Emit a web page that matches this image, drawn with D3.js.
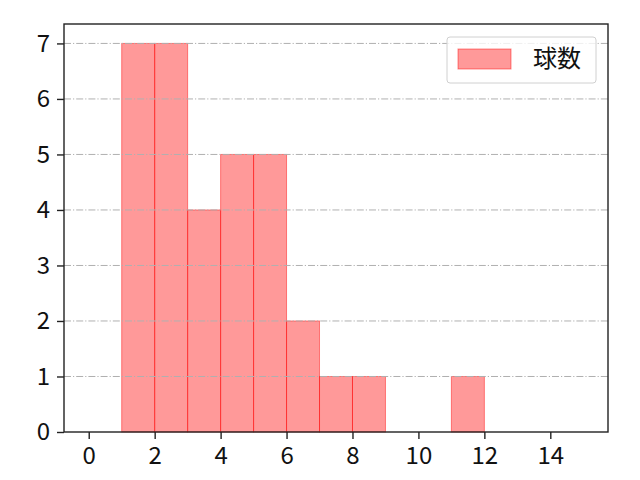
<!DOCTYPE html>
<html>
<head>
<meta charset="utf-8">
<script src="https://cdn.jsdelivr.net/npm/d3@7"></script>
<style>
  body { margin: 0; background: #fff; }
  text { font-family: "Noto Sans CJK JP", "DejaVu Sans", sans-serif; }
</style>
</head>
<body>
<div id="chart"></div>
<script>
// histogram bins (left edge, width 1) and counts
var binStarts = [0, 1, 2, 3, 4, 5, 6, 7, 8, 9, 10, 11, 12, 13, 14];
var counts    = [0, 7, 7, 4, 5, 5, 2, 1, 1, 0, 0, 1, 0, 0, 0];
var xTicks = [0, 2, 4, 6, 8, 10, 12, 14];
var yTicks = [0, 1, 2, 3, 4, 5, 6, 7];
var seriesName = "球数";

var svgWidth = 640;
var svgHeight = 480;
var margin = { top: 24, right: 32, bottom: 48, left: 64 };
var chartWidth = svgWidth - margin.left - margin.right;
var chartHeight = svgHeight - margin.top - margin.bottom;
var fontSize = "24px";

var svg = d3.select("#chart")
  .append("svg")
  .attr("width", svgWidth)
  .attr("height", svgHeight);

var chartGroup = svg.append("g")
  .attr("transform", `translate(${margin.left}, ${margin.top})`);

var xScale = d3.scaleLinear().domain([-0.75, 15.75]).range([0, chartWidth]);
var yScale = d3.scaleLinear().domain([0, 7.35]).range([chartHeight, 0]);

// bars
chartGroup.selectAll("rect.bar")
  .data(binStarts.map((b, i) => ({ x0: b, x1: b + 1, n: counts[i] })).filter(d => d.n > 0))
  .enter()
  .append("rect")
  .attr("class", "bar")
  .attr("x", d => xScale(d.x0))
  .attr("y", d => yScale(d.n))
  .attr("width", d => xScale(d.x1) - xScale(d.x0))
  .attr("height", d => yScale(0) - yScale(d.n))
  .style("fill", "rgba(255,0,0,0.4)")
  .style("stroke", "rgba(255,0,0,0.45)")
  .style("stroke-width", 1);

// grid (drawn above the bars)
chartGroup.selectAll("line.grid")
  .data(yTicks.slice(1))
  .enter()
  .append("line")
  .attr("class", "grid")
  .attr("x1", 0)
  .attr("x2", chartWidth)
  .attr("y1", d => yScale(d))
  .attr("y2", d => yScale(d))
  .style("stroke", "#b0b0b0")
  .style("stroke-width", 1)
  .style("stroke-dasharray", "7,2,1.2,2");

// axes
var bottomAxis = d3.axisBottom(xScale).tickValues(xTicks).tickSize(7).tickPadding(8).tickSizeOuter(0);
var leftAxis = d3.axisLeft(yScale).tickValues(yTicks).tickSize(7).tickPadding(7).tickSizeOuter(0);

var xAxis = chartGroup.append("g")
  .attr("transform", `translate(0, ${chartHeight})`)
  .call(bottomAxis);
var yAxis = chartGroup.append("g").call(leftAxis);

[xAxis, yAxis].forEach(function(ax) {
  ax.attr("font-size", fontSize).attr("font-family", null);
  ax.select(".domain").remove();
  ax.selectAll("line").style("stroke", "#222").style("stroke-width", 1.4);
  ax.selectAll("text")
    .style("font-size", fontSize)
    .style("fill", "#111");
});

// frame
chartGroup.append("rect")
  .attr("x", 0)
  .attr("y", 0)
  .attr("width", chartWidth)
  .attr("height", chartHeight)
  .style("fill", "none")
  .style("stroke", "#222")
  .style("stroke-width", 1.4);

// legend
var legend = chartGroup.append("g")
  .attr("transform", `translate(${chartWidth - 161}, 13)`);
legend.append("rect")
  .attr("width", 149)
  .attr("height", 46)
  .attr("rx", 3)
  .style("fill", "rgba(255,255,255,0.8)")
  .style("stroke", "#d0d0d0");
legend.append("rect")
  .attr("x", 11)
  .attr("y", 12)
  .attr("width", 53)
  .attr("height", 20)
  .style("fill", "rgba(255,0,0,0.4)")
  .style("stroke", "rgba(255,0,0,0.45)");
legend.append("text")
  .attr("x", 86)
  .attr("y", 22)
  .attr("dy", "0.35em")
  .style("font-size", fontSize)
  .style("fill", "#111")
  .text(seriesName);
</script>
</body>
</html>
